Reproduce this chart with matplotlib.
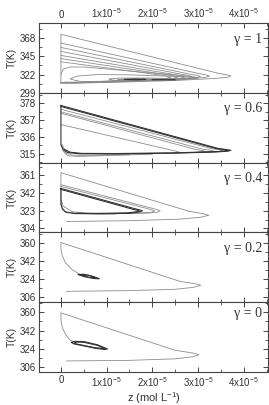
#!/usr/bin/env python3

import numpy
from matplotlib import pyplot
from matplotlib.ticker import MultipleLocator, FixedLocator


# z values are in units of 1e-5 mol/L, T in K
GAMMAS = ["1", "0.6", "0.4", "0.2", "0"]

YTICKS = [
	[299, 322, 345, 368],
	[315, 336, 357, 378],
	[304, 323, 342, 361],
	[306, 324, 342, 360],
	[306, 324, 342, 360],
]
YLIMS = [(299, 386.6), (304, 390.7), (299.7, 374.8), (300.6, 370.4), (300.7, 370.2)]

XTICKS = [0, 1, 2, 3, 4]
XTICK_LABELS = ["0", "1x10$^{-5}$", "2x10$^{-5}$", "3x10$^{-5}$", "4x10$^{-5}$"]

# gamma = 1 : trajectories spiralling into a focus
G1_GREY = [
	[(0, 311.5), (0, 372.5), (3.45, 323.5), (3.62, 321.8), (3.72, 320.3), (3.65, 318.6), (3.4, 317.2),
		(2.5, 314.5), (1.2, 312.3), (0.3, 311.2), (0, 311.5)],
	[(0, 361.5), (3.0, 323.5), (3.18, 321.5), (3.25, 320), (3.15, 318.3), (2.8, 316.5), (1.5, 313.3),
		(0.3, 311.5), (0, 311.5)],
	[(0, 356), (2.8, 322.8), (2.98, 321), (3.05, 319.5), (2.95, 317.8), (2.6, 316.2), (1.4, 313.3),
		(0.3, 311.6), (0, 311.6)],
	[(0, 351), (2.65, 322.3), (2.82, 320.5), (2.88, 319.2), (2.78, 317.6), (2.4, 316), (1.3, 313.4),
		(0.3, 311.7), (0, 311.7)],
	[(0, 346), (2.5, 321.8), (2.65, 320.2), (2.72, 318.9), (2.6, 317.4), (2.2, 315.9), (1.2, 313.5),
		(0.3, 311.8), (0, 311.8)],
	[(0, 342), (2.35, 321.5), (2.5, 320), (2.56, 318.8), (2.45, 317.3), (2.0, 315.8), (1.1, 313.6),
		(0.3, 311.9), (0, 311.9)],
	[(0, 338), (2.2, 321.2), (2.35, 319.8), (2.4, 318.7), (2.3, 317.2), (1.9, 315.7), (1.0, 313.7),
		(0.3, 312), (0, 312)],
	[(0, 322), (0.05, 329), (0.2, 331.5), (0.5, 331.5), (2.6, 321), (2.85, 319.6), (2.95, 318.5),
		(2.85, 317.2), (2.3, 315.8), (1.2, 313.8), (0.4, 312.4), (0.1, 312.5)],
	[(0.35, 314), (0.2, 316.5), (0.35, 320), (0.8, 322), (1.5, 321.6), (2.6, 319.5), (2.95, 318.6),
		(3.0, 317.6), (2.85, 316.6), (2.2, 315.2), (1.2, 313.8), (0.5, 313.2), (0.35, 314)],
	[(1.1, 315.2), (1.05, 316.5), (1.3, 317.6), (1.9, 317.6), (2.6, 316.8), (2.75, 316), (2.5, 315.2),
		(1.8, 314.5), (1.3, 314.4), (1.1, 315.2)],
	[(1.25, 315.6), (1.4, 316.6), (2.0, 316.6), (2.4, 316), (2.2, 315.3), (1.6, 314.9), (1.25, 315.6)],
]
G1_DARK = [
	[(1.4, 315.8), (1.6, 316.3), (1.85, 316), (1.65, 315.4), (1.4, 315.8)],
	[(2.0, 315.6), (2.3, 315.5), (2.5, 315.4)],
]

# gamma = 0.6 : large limit cycle
G06_GREY = [
	[(0, 370.3), (3.3, 321.3), (3.5, 319.8), (3.55, 318.8), (3.45, 317.8), (3.1, 316.9)],
	[(0, 367.1), (3.1, 320.8), (3.3, 319.2), (3.35, 318.3), (3.2, 317.3), (2.9, 316.6)],
	[(0, 365.4), (2.95, 320.3), (3.12, 318.9), (3.15, 318), (3.0, 317), (2.7, 316.4)],
	[(0, 351.3), (2.5, 318.5), (2.62, 316.6), (2.5, 315.9)],
	[(0.02, 327), (0.05, 318), (0.15, 312.5), (0.4, 311.8), (1.0, 312.8), (2.0, 314.5)],
	[(0.04, 325), (0.1, 316), (0.25, 313.2), (0.6, 313), (1.5, 313.9)],
]
G06_DARK = [
	[(0, 375), (3.45, 321.5), (3.62, 320.3), (3.72, 319.3), (3.65, 318.2), (3.4, 317.3), (2.5, 315.8),
		(1.2, 314.8), (0.4, 315), (0.15, 316.5), (0.05, 320), (0, 326), (0, 375)],
	[(0, 373.8), (3.4, 321.4), (3.58, 320.1), (3.66, 319.2), (3.58, 318.3), (3.3, 317.5), (2.5, 316.2),
		(1.2, 315.3), (0.45, 315.5), (0.2, 317), (0.08, 320.5)],
]

# gamma = 0.4
G04_GREY = [
	[(0.12, 311.5), (1.5, 312.3), (2.6, 314), (3.05, 316), (3.24, 318.2), (3.1, 320), (2.8, 322.5),
		(0, 364), (0, 335), (0.05, 328), (0.25, 322), (0.6, 320), (1.2, 319.6)],
	[(0, 351), (2.05, 325), (2.17, 323), (2.12, 321.5), (1.9, 320.5), (1.0, 319.8), (0.4, 320),
		(0.1, 322), (0.02, 327), (0, 335)],
	[(0, 349.2), (1.95, 324.6), (2.05, 322.9), (1.98, 321.4), (1.7, 320.5), (0.9, 319.9)],
]
G04_DARK = [
	[(0, 347), (1.65, 324.8), (1.78, 323.2), (1.75, 322), (1.5, 320.3), (0.8, 319.7), (0.3, 320),
		(0.1, 321.5), (0.03, 325), (0, 330), (0, 347)],
	[(0, 346), (1.6, 324.3), (1.72, 322.9), (1.68, 322), (1.45, 320.7), (0.8, 320.2), (0.35, 320.5)],
]

# gamma = 0.2 : small cycle
G02_GREY = [
	[(0.12, 311.5), (1.5, 312.2), (2.5, 313.5), (2.9, 315.5), (3.06, 317.5), (2.95, 319), (2.6, 321.5),
		(0, 360.3), (0, 353), (0.03, 347), (0.1, 340), (0.25, 333), (0.4, 329)],
]
G02_DARK = [
	[(0.38, 328.3), (0.5, 328.6), (0.7, 326.5), (0.84, 324), (0.72, 324.3), (0.5, 326.3), (0.38, 328.3)],
	[(0.42, 328), (0.6, 327.6), (0.8, 324.4), (0.6, 325.6), (0.42, 328)],
]

# gamma = 0 : ellipse-like cycle
G0_GREY = [
	[(0.12, 311.7), (1.5, 312.3), (2.5, 313.8), (2.88, 315.8), (3.02, 317.9), (2.9, 319.5), (2.5, 322.3),
		(0, 359.6), (0, 352), (0.03, 345), (0.1, 338), (0.2, 332.5), (0.27, 331)],
]
G0_DARK = [
	[(0.23, 330.2), (0.3, 331.2), (0.5, 331), (0.8, 327.8), (1.02, 323.6), (0.95, 323.1), (0.75, 324.3),
		(0.45, 327.2), (0.28, 328.7), (0.23, 330.2)],
	[(0.3, 329.8), (0.35, 330.5), (0.5, 330.3), (0.8, 327.2), (0.97, 323.8), (0.75, 324.9), (0.45, 327.6),
		(0.32, 328.8), (0.3, 329.8)],
]

PANELS = [
	(G1_GREY, G1_DARK),
	(G06_GREY, G06_DARK),
	(G04_GREY, G04_DARK),
	(G02_GREY, G02_DARK),
	(G0_GREY, G0_DARK),
]

GREY = "#8c8c8c"
DARK = "#333333"
FRAME = "#444444"


def style_axis(ax, idx, n):
	for sp in ax.spines.values():
		sp.set_color(FRAME)
		sp.set_linewidth(0.8)
	ax.set_xlim(-0.48, 4.53)
	ax.set_ylim(*YLIMS[idx])
	ax.xaxis.set_major_locator(FixedLocator(XTICKS))
	ax.xaxis.set_minor_locator(MultipleLocator(0.5))
	yt = YTICKS[idx]
	step = yt[1] - yt[0]
	ax.set_yticks(yt)
	ax.yaxis.set_minor_locator(FixedLocator([t + step / 2.0 for t in [yt[0] - step] + yt]))
	ax.tick_params(which = "both", direction = "in", top = True, right = True, color = FRAME,
		labelsize = 7, labelcolor = "#333333", pad = 2)
	ax.tick_params(which = "major", length = 3.5, width = 0.7)
	ax.tick_params(which = "minor", length = 2, width = 0.6)
	ax.set_xticklabels(XTICK_LABELS)
	ax.tick_params(axis = "x", labelbottom = (idx == n - 1), labeltop = (idx == 0))
	ax.set_ylabel("T(K)", fontsize = 7.5, color = "#333333", labelpad = 2)


def plot_panels():
	pyplot.rcParams["font.family"] = ["Liberation Sans", "DejaVu Sans"]
	pyplot.rcParams["mathtext.default"] = "regular"
	fig, axes = pyplot.subplots(nrows = len(PANELS), ncols = 1, figsize = (2.69, 4.05), dpi = 100,
		sharex = True)
	pyplot.subplots_adjust(left = 0.145, right = 0.996, top = 0.943, bottom = 0.0815, hspace = 0.0)
	for i, (ax, (grey, dark)) in enumerate(zip(axes, PANELS)):
		for c in grey:
			a = numpy.asarray(c)
			ax.plot(a[:, 0], a[:, 1], color = GREY, linewidth = 0.6)
		for c in dark:
			a = numpy.asarray(c)
			ax.plot(a[:, 0], a[:, 1], color = DARK, linewidth = 0.8)
		style_axis(ax, i, len(PANELS))
		ypos = 0.84 if i == len(PANELS) - 1 else 0.77
		ax.text(0.975, ypos, "\u03b3 = " + GAMMAS[i], transform = ax.transAxes, ha = "right",
			va = "center", fontsize = 10, family = ["Liberation Serif", "DejaVu Serif"], color = "#333333")
	fig.align_ylabels(axes)
	axes[-1].set_xlabel("z (mol L$^{-1}$)", fontsize = 8, color = "#333333", labelpad = 1)
	fig.savefig("out.png", dpi = 100)


if __name__ == "__main__":
	plot_panels()
	pyplot.close()
